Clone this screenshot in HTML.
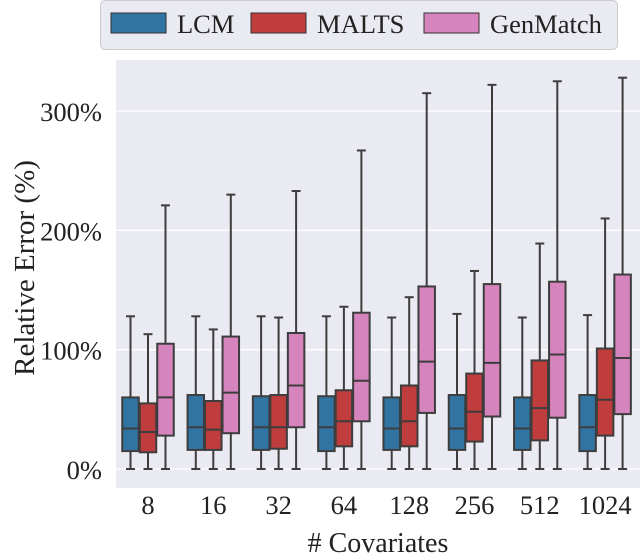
<!DOCTYPE html>
<html><head><meta charset="utf-8"><style>
body{margin:0;background:#fff;width:640px;height:555px;overflow:hidden}
svg text{font-family:"Liberation Serif",serif;fill:#222}
</style></head><body>
<svg id="chart" width="640" height="555">
<rect x="116" y="60" width="524" height="428" fill="#eaeaf2"/>
<g id="grid"></g><g id="boxes"></g><g id="axes"></g>
<text x="-268" y="34" transform="rotate(-90)" text-anchor="middle" font-size="29">Relative Error (%)</text>
<text x="378" y="552" text-anchor="middle" font-size="28"># Covariates</text>
<g>
<rect x="100.5" y="0.5" width="517" height="49" rx="5" fill="#eaeaf2" stroke="#ccc"/>
<rect x="111" y="13" width="55" height="20" fill="#3274a1" stroke="#333"/>
<text x="177" y="33" font-size="26.5">LCM</text>
<rect x="251" y="13" width="55" height="20" fill="#c03d3e" stroke="#333"/>
<text x="317" y="33" font-size="26.5">MALTS</text>
<rect x="424" y="13" width="55" height="20" fill="#d684bd" stroke="#333"/>
<text x="490" y="33" font-size="26.5">GenMatch</text>
</g>
</svg>
<script>
const categories=["8","16","32","64","128","256","512","1024"];
const seriesNames=["LCM","MALTS","GenMatch"];
const yTicks=[0,100,200,300];
// each entry: [low, q1, median, q3, high]
const lcm=[[0,15,34,60,128],[0,16,35,62,128],[0,16,35,61,128],[0,15,35,61,128],[0,16,34,60,127],[0,16,34,62,130],[0,16,34,60,127],[0,15,35,62,129]];
const malts=[[0,14,31,55,113],[0,16,33,57,117],[0,17,35,62,127],[0,19,40,66,136],[0,19,40,70,144],[0,23,48,80,166],[0,24,51,91,189],[0,28,58,101,210]];
const genmatch=[[0,28,60,105,221],[0,30,64,111,230],[0,35,70,114,233],[0,40,74,131,267],[0,47,90,153,315],[0,44,89,155,322],[0,43,96,157,325],[0,46,93,163,328]];
const colors=["#3274a1","#c03d3e","#d684bd"];
const NS="http://www.w3.org/2000/svg";
function y(v){return 469-v*1.193;}
function xc(i){return 148+i*65.3;}
function mk(p,tag,a){const e=document.createElementNS(NS,tag);for(const k in a)e.setAttribute(k,a[k]);p.appendChild(e);return e;}
const grid=document.getElementById('grid'),axes=document.getElementById('axes'),boxes=document.getElementById('boxes');
yTicks.forEach(t=>{
 const l=mk(grid,'line',{x1:116,x2:640,y1:y(t),y2:y(t),stroke:'#fff','stroke-width':1.3});
 
 
 const tx=mk(axes,'text',{x:102,y:y(t)+10,'text-anchor':'end','font-size':26.5});
 tx.textContent=t+'%';
 
 
});
categories.forEach((c,i)=>{
 const tx=mk(axes,'text',{x:xc(i),y:514,'text-anchor':'middle','font-size':26.5});
 tx.textContent=c;
 
 
});
[lcm,malts,genmatch].forEach((ser,s)=>{
 ser.forEach((d,i)=>{
  const cx=xc(i)+(s-1)*17.5, w=16.5;
  const g=mk(boxes,'g',{});
  
  
  const st={stroke:'#3d3d3d','stroke-width':2};
  mk(g,'line',Object.assign({x1:cx,x2:cx,y1:y(d[0]),y2:y(d[1])},st));
  mk(g,'line',Object.assign({x1:cx,x2:cx,y1:y(d[3]),y2:y(d[4])},st));
  mk(g,'line',Object.assign({x1:cx-4.5,x2:cx+4.5,y1:y(d[0]),y2:y(d[0])},st));
  mk(g,'line',Object.assign({x1:cx-4.5,x2:cx+4.5,y1:y(d[4]),y2:y(d[4])},st));
  mk(g,'rect',Object.assign({x:cx-w/2,y:y(d[3]),width:w,height:y(d[1])-y(d[3]),fill:colors[s]},st));
  mk(g,'line',Object.assign({x1:cx-w/2,x2:cx+w/2,y1:y(d[2]),y2:y(d[2])},st));
 });
});
</script>
</body></html>
